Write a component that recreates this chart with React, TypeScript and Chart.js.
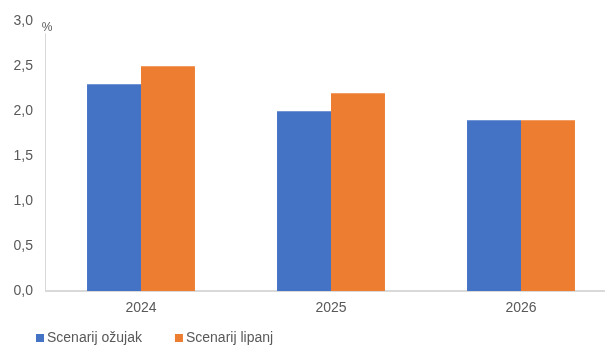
import React, { useEffect, useRef } from "react";
import { Chart, registerables } from "chart.js";

Chart.register(...registerables);

const categories = ["2024", "2025", "2026"];
const seriesNames = ["Scenarij ožujak", "Scenarij lipanj"];
const seriesOzujak = [2.3, 2.0, 1.9];
const seriesLipanj = [2.5, 2.2, 1.9];
const colors = ["#4472C4", "#ED7D31"];
const yMin = 0;
const yMax = 3;
const yStep = 0.5;
const unitLabel = "%";

const FONT = "'Liberation Sans', Arial, sans-serif";
const TEXT = "#595959";
const AXIS = "#D9D9D9";

export default function App() {
  const ref = useRef<HTMLCanvasElement | null>(null);
  useEffect(() => {
    document.documentElement.style.overflow = "hidden";
    document.body.style.overflow = "hidden";
    document.body.style.margin = "0";
    const canvas = ref.current;
    if (!canvas) return;

    const customPlugin = {
      id: "custom",
      afterDraw(chart: any) {
        const ctx = chart.ctx;
        const area = chart.chartArea;
        ctx.save();
        // y axis line (interrupted by unit label at top)
        ctx.strokeStyle = AXIS;
        ctx.lineWidth = 1;
        ctx.beginPath();
        ctx.moveTo(Math.round(area.left) - 0.5, area.top + 12);
        ctx.lineTo(Math.round(area.left) - 0.5, area.bottom);
        ctx.stroke();
        // unit label
        ctx.fillStyle = TEXT;
        ctx.font = `12px ${FONT}`;
        ctx.textAlign = "center";
        ctx.textBaseline = "middle";
        ctx.fillText(unitLabel, area.left + 1, area.top + 6);
        // legend
        ctx.font = `14px ${FONT}`;
        ctx.textAlign = "left";
        let x = 36;
        const y = 338;
        chart.data.datasets.forEach((ds: any) => {
          ctx.fillStyle = ds.backgroundColor;
          ctx.fillRect(x, y - 4, 8, 8);
          ctx.fillStyle = TEXT;
          ctx.fillText(ds.label, x + 11, y);
          x += 11 + ctx.measureText(ds.label).width + 33;
        });
        ctx.restore();
      },
    };

    const chart = new Chart(canvas, {
      type: "bar",
      data: {
        labels: categories,
        datasets: [
          { label: seriesNames[0], data: seriesOzujak, backgroundColor: colors[0], categoryPercentage: 0.568, barPercentage: 1.0 },
          { label: seriesNames[1], data: seriesLipanj, backgroundColor: colors[1], categoryPercentage: 0.568, barPercentage: 1.0 },
        ],
      },
      options: {
        animation: false,
        responsive: false,
        maintainAspectRatio: false,
        layout: { padding: { top: 21, right: 4, left: 0, bottom: 0 } },
        plugins: {
          legend: { display: false },
          tooltip: { enabled: false },
          title: { display: false },
        },
        scales: {
          x: {
            grid: { display: false, drawTicks: false },
            border: { display: true, color: AXIS, width: 2 },
            ticks: { color: TEXT, font: { size: 14, family: FONT }, padding: 9 },
            afterFit(scale: any) {
              scale.height = 54;
            },
          },
          y: {
            min: yMin,
            max: yMax,
            grid: { display: false, drawTicks: false },
            border: { display: false },
            ticks: {
              stepSize: yStep,
              color: TEXT,
              font: { size: 14, family: FONT },
              padding: 13,
              callback: (v: any) => Number(v).toFixed(1).replace(".", ","),
            },
            afterFit(scale: any) {
              scale.width = 46;
            },
          },
        },
      },
      plugins: [customPlugin],
    });
    return () => chart.destroy();
  }, []);

  return (
    <div style={{ width: 620, height: 345 }}>
      <canvas ref={ref} width={620} height={345} style={{ display: "block", width: 620, height: 345 }} />
    </div>
  );
}
